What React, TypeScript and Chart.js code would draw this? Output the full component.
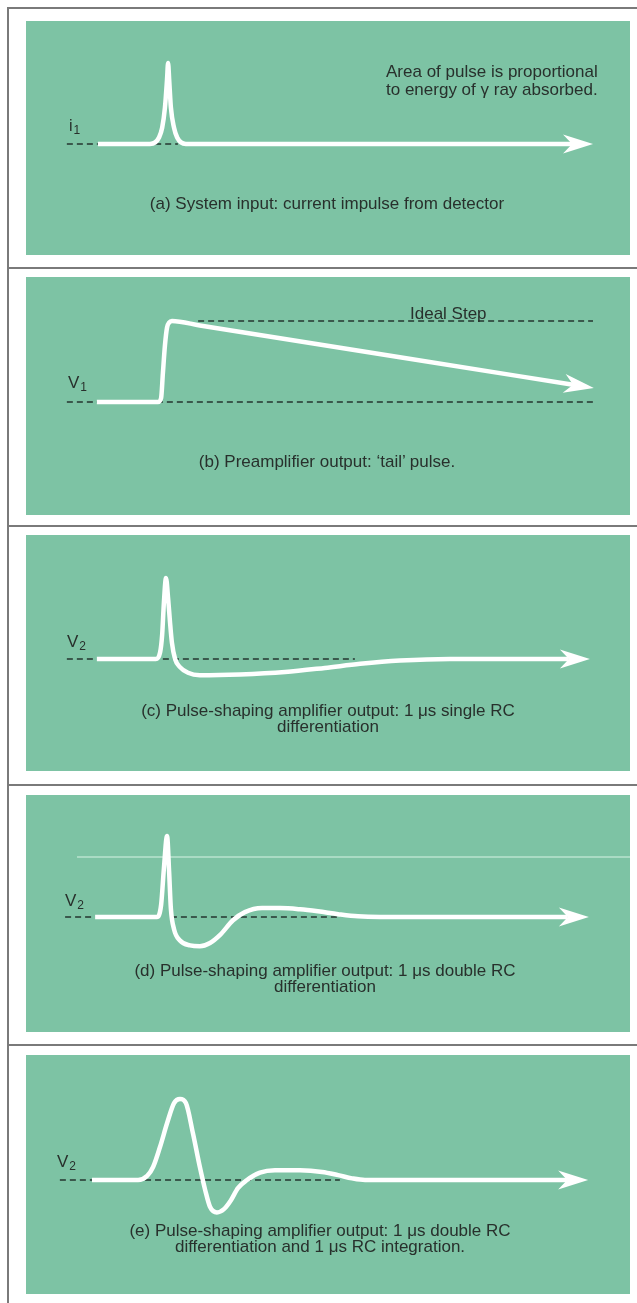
import React, { useEffect, useRef } from "react";
import { Chart, registerables } from "chart.js";

Chart.register(...registerables);

// ---------- data: time in µs (0 = arrival of the detector pulse), amplitude relative to the ideal step ----------
const T_MIN = -3.8;
const T_MAX = 13.5;

const impulseTime = [-1.74, -0.25, -0.1, 0.01, 0.1, 0.18, 0.24, 0.27, 0.3, 0.35, 0.44, 0.53, 0.64, 0.78, 11.84];
const impulseValue = [0, 0, 0.02, 0.08, 0.2, 0.45, 0.8, 1.0, 0.8, 0.45, 0.2, 0.08, 0.02, 0, 0];

const tailTime = [-1.77, -0.02, 0.07, 0.12, 0.18, 0.24, 0.3, 0.38, 1.18, 6.91, 11.87];
const tailValue = [0, 0, 0.05, 0.35, 0.7, 0.92, 0.98, 1.0, 0.945, 0.552, 0.213];

const singleRcTime = [-1.77, -0.08, 0.04, 0.1, 0.15, 0.21, 0.27, 0.32, 0.38, 0.47, 0.61, 0.84, 1.18, 2.33, 3.62, 4.76, 5.77, 6.91, 8.34, 11.75];
const singleRcValue = [0, 0, 0.08, 0.3, 0.7, 1.0, 0.75, 0.48, 0.2, 0, -0.1, -0.17, -0.2, -0.19, -0.16, -0.11, -0.06, -0.02, 0, 0];

const doubleRcTime = [-1.82, -0.05, 0.07, 0.15, 0.24, 0.3, 0.35, 0.44, 0.61, 0.9, 1.18, 1.47, 1.76, 2.13, 2.47, 2.96, 3.48, 4.05, 4.56, 5.14, 5.71, 6.34, 11.72];
const doubleRcValue = [0, 0, 0.15, 0.6, 1.0, 0.55, 0.1, -0.15, -0.29, -0.35, -0.36, -0.32, -0.22, -0.04, 0.06, 0.11, 0.11, 0.095, 0.07, 0.035, 0.008, 0, 0];

const integratedTime = [-1.91, -0.59, -0.33, -0.16, 0.04, 0.24, 0.44, 0.61, 0.78, 0.98, 1.18, 1.33, 1.47, 1.67, 1.87, 2.07, 2.27, 2.53, 2.9, 3.33, 4.05, 4.68, 5.14, 5.54, 5.91, 11.7];
const integratedValue = [0, 0, 0.05, 0.16, 0.41, 0.7, 0.95, 1.0, 0.95, 0.58, 0.16, -0.12, -0.33, -0.4, -0.36, -0.25, -0.1, 0, 0.09, 0.12, 0.12, 0.1, 0.06, 0.02, 0, 0];

// dashed reference levels: [tStart, tEnd] segments
const baselineA = [[-2.63, -1.74], [-0.1, 0.55]];
const baselineB = [[-2.63, 12.5]];
const idealStepB = [[1.13, 12.44]];
const baselineC = [[-2.63, -1.77], [0.12, 5.62]];
const baselineD = [[-2.68, -1.82], [0.35, 5.19]];
const baselineE = [[-2.83, -1.91], [-0.39, 5.19]];
const IDEAL_STEP_LEVEL = 1.0;
const scanLineD = [[-2.34, 13.5]];
const SCAN_LINE_LEVEL = 0.74;

// ---------- text ----------
const CAPTIONS = [
  ["(a) System input: current impulse from detector"],
  ["(b) Preamplifier output: \u2018tail\u2019 pulse."],
  ["(c) Pulse-shaping amplifier output: 1 \u03bcs single RC", "differentiation"],
  ["(d) Pulse-shaping amplifier output: 1 \u03bcs double RC", "differentiation"],
  ["(e) Pulse-shaping amplifier output: 1 \u03bcs double RC", "differentiation and 1 \u03bcs RC integration."],
];
const SIGNAL_NAMES = ["i", "V", "V", "V", "V"];
const SIGNAL_SUBS = ["1", "1", "2", "2", "2"];
const NOTE_A = ["Area of pulse is proportional", "to energy of \u03b3 ray absorbed."];
const NOTE_B = "Ideal Step";

// ---------- layout / style ----------
const PANEL_LEFT = 26;
const PANEL_WIDTH = 604;
const PANEL_TOPS = [21, 277, 535, 795, 1055];
const PANEL_HEIGHTS = [234, 238, 236, 237, 239];
const BASELINE_OFFSETS = [123, 125, 124, 122, 125];
const PX_PER_UNIT = 81;
const SEPARATORS = [7, 267, 525, 784, 1044];
const CAPTION_BASELINES = [[209], [467], [716, 732], [976, 992], [1236, 1252]];
const CAPTION_CENTERS = [327, 327, 328, 325, 320];
const LABEL_POS = [
  { x: 69, base: 132, size: 16 },
  { x: 68, base: 388, size: 17 },
  { x: 67, base: 647, size: 17 },
  { x: 65, base: 906, size: 17 },
  { x: 57, base: 1167, size: 17 },
];

const GREEN = "rgb(125,195,164)";
const DASH = "rgb(58,88,76)";
const TEXT = "rgb(40,48,44)";
const FONT = "'Liberation Sans', Arial, Helvetica, sans-serif";

const arrowPlugin = {
  id: "arrowHead",
  afterDatasetsDraw(chart: any) {
    const ctx = chart.ctx;
    chart.data.datasets.forEach((ds: any, i: number) => {
      if (!ds.arrow) return;
      const pts = chart.getDatasetMeta(i).data;
      if (pts.length < 2) return;
      const p1 = pts[pts.length - 2];
      const p2 = pts[pts.length - 1];
      const dx = p2.x - p1.x;
      const dy = p2.y - p1.y;
      const len = Math.hypot(dx, dy) || 1;
      const ux = dx / len, uy = dy / len;
      const nx = -uy, ny = ux;
      const tip = { x: p2.x + ux * 21, y: p2.y + uy * 21 };
      const back = 9, half = 9.5;
      ctx.save();
      ctx.fillStyle = "#ffffff";
      ctx.beginPath();
      ctx.moveTo(tip.x, tip.y);
      ctx.lineTo(p2.x - ux * back + nx * half, p2.y - uy * back + ny * half);
      ctx.lineTo(p2.x, p2.y);
      ctx.lineTo(p2.x - ux * back - nx * half, p2.y - uy * back - ny * half);
      ctx.closePath();
      ctx.fill();
      ctx.restore();
    });
  },
};

type PanelSpec = {
  time: number[];
  value: number[];
  dashes: { segs: number[][]; level: number }[];
  faint?: { segs: number[][]; level: number }[];
};

const PANELS: PanelSpec[] = [
  { time: impulseTime, value: impulseValue, dashes: [{ segs: baselineA, level: 0 }] },
  {
    time: tailTime,
    value: tailValue,
    dashes: [
      { segs: baselineB, level: 0 },
      { segs: idealStepB, level: IDEAL_STEP_LEVEL },
    ],
  },
  { time: singleRcTime, value: singleRcValue, dashes: [{ segs: baselineC, level: 0 }] },
  {
    time: doubleRcTime,
    value: doubleRcValue,
    dashes: [{ segs: baselineD, level: 0 }],
    faint: [{ segs: scanLineD, level: SCAN_LINE_LEVEL }],
  },
  { time: integratedTime, value: integratedValue, dashes: [{ segs: baselineE, level: 0 }] },
];

function PanelChart({ index }: { index: number }) {
  const ref = useRef<HTMLCanvasElement>(null);
  const spec = PANELS[index];
  const h = PANEL_HEIGHTS[index];
  const off = BASELINE_OFFSETS[index];

  useEffect(() => {
    const datasets: any[] = [];
    datasets.push({
      label: "signal",
      data: spec.time.map((t, i) => ({ x: t, y: spec.value[i] })),
      borderColor: "#ffffff",
      borderWidth: 4.5,
      pointRadius: 0,
      cubicInterpolationMode: "monotone",
      borderJoinStyle: "round",
      borderCapStyle: "butt",
      fill: false,
      arrow: true,
      order: 0,
    });
    spec.dashes.forEach((d) =>
      d.segs.forEach((s) =>
        datasets.push({
          label: "ref",
          data: [
            { x: s[0], y: d.level },
            { x: s[1], y: d.level },
          ],
          borderColor: DASH,
          borderWidth: 2,
          borderDash: [6, 4],
          pointRadius: 0,
          fill: false,
          order: 1,
        })
      )
    );
    (spec.faint || []).forEach((d) =>
      d.segs.forEach((s) =>
        datasets.push({
          label: "scan",
          data: [
            { x: s[0], y: d.level },
            { x: s[1], y: d.level },
          ],
          borderColor: "rgba(205,238,222,0.75)",
          borderWidth: 1.5,
          pointRadius: 0,
          fill: false,
          order: 2,
        })
      )
    );
    const chart = new Chart(ref.current as HTMLCanvasElement, {
      type: "line",
      data: { datasets },
      options: {
        animation: false,
        responsive: false,
        devicePixelRatio: 1,
        events: [],
        layout: { padding: 0 },
        plugins: { legend: { display: false }, tooltip: { enabled: false }, title: { display: false } },
        scales: {
          x: { type: "linear", min: T_MIN, max: T_MAX, display: false },
          y: { type: "linear", min: -(h - off) / PX_PER_UNIT, max: off / PX_PER_UNIT, display: false },
        },
      } as any,
      plugins: [arrowPlugin as any],
    });
    return () => chart.destroy();
  }, []);

  return (
    <canvas
      ref={ref}
      width={PANEL_WIDTH}
      height={h}
      style={{
        position: "absolute",
        left: PANEL_LEFT,
        top: PANEL_TOPS[index],
        width: PANEL_WIDTH,
        height: h,
        background: GREEN,
      }}
    />
  );
}

function TextAt({ x, base, size, children, style }: any) {
  return (
    <div
      style={{
        position: "absolute",
        left: x,
        top: base - size * 0.8465,
        fontSize: size,
        lineHeight: `${size}px`,
        fontFamily: FONT,
        color: TEXT,
        whiteSpace: "nowrap",
        ...style,
      }}
    >
      {children}
    </div>
  );
}

export default function App() {
  return (
    <div
      style={{
        position: "absolute",
        left: 0,
        top: 0,
        width: 637,
        height: 1303,
        background: "#ffffff",
        overflow: "hidden",
      }}
    >
      {/* page frame */}
      <div style={{ position: "absolute", left: 7, top: SEPARATORS[0], width: 2, height: 1303 - SEPARATORS[0], background: "#7a7a7a" }} />
      {SEPARATORS.map((y, i) => (
        <div key={i} style={{ position: "absolute", left: 7, top: y, width: 630, height: 2, background: "#7a7a7a" }} />
      ))}

      {PANELS.map((_, i) => (
        <PanelChart key={i} index={i} />
      ))}

      {/* signal labels */}
      {LABEL_POS.map((p, i) => (
        <TextAt key={"l" + i} x={p.x} base={p.base} size={p.size}>
          {SIGNAL_NAMES[i]}
          <span style={{ fontSize: 12, position: "relative", top: 3, marginLeft: 1 }}>{SIGNAL_SUBS[i]}</span>
        </TextAt>
      ))}

      {/* annotations */}
      <TextAt x={386} base={77} size={17}>{NOTE_A[0]}</TextAt>
      <TextAt x={386} base={95} size={17}>{NOTE_A[1]}</TextAt>
      <TextAt x={410} base={319} size={17}>{NOTE_B}</TextAt>

      {/* captions */}
      {CAPTIONS.map((lines, i) =>
        lines.map((line, j) => (
          <TextAt
            key={"c" + i + "_" + j}
            x={CAPTION_CENTERS[i] - 300}
            base={CAPTION_BASELINES[i][j]}
            size={17}
            style={{ width: 600, textAlign: "center" }}
          >
            {line}
          </TextAt>
        ))
      )}
    </div>
  );
}
